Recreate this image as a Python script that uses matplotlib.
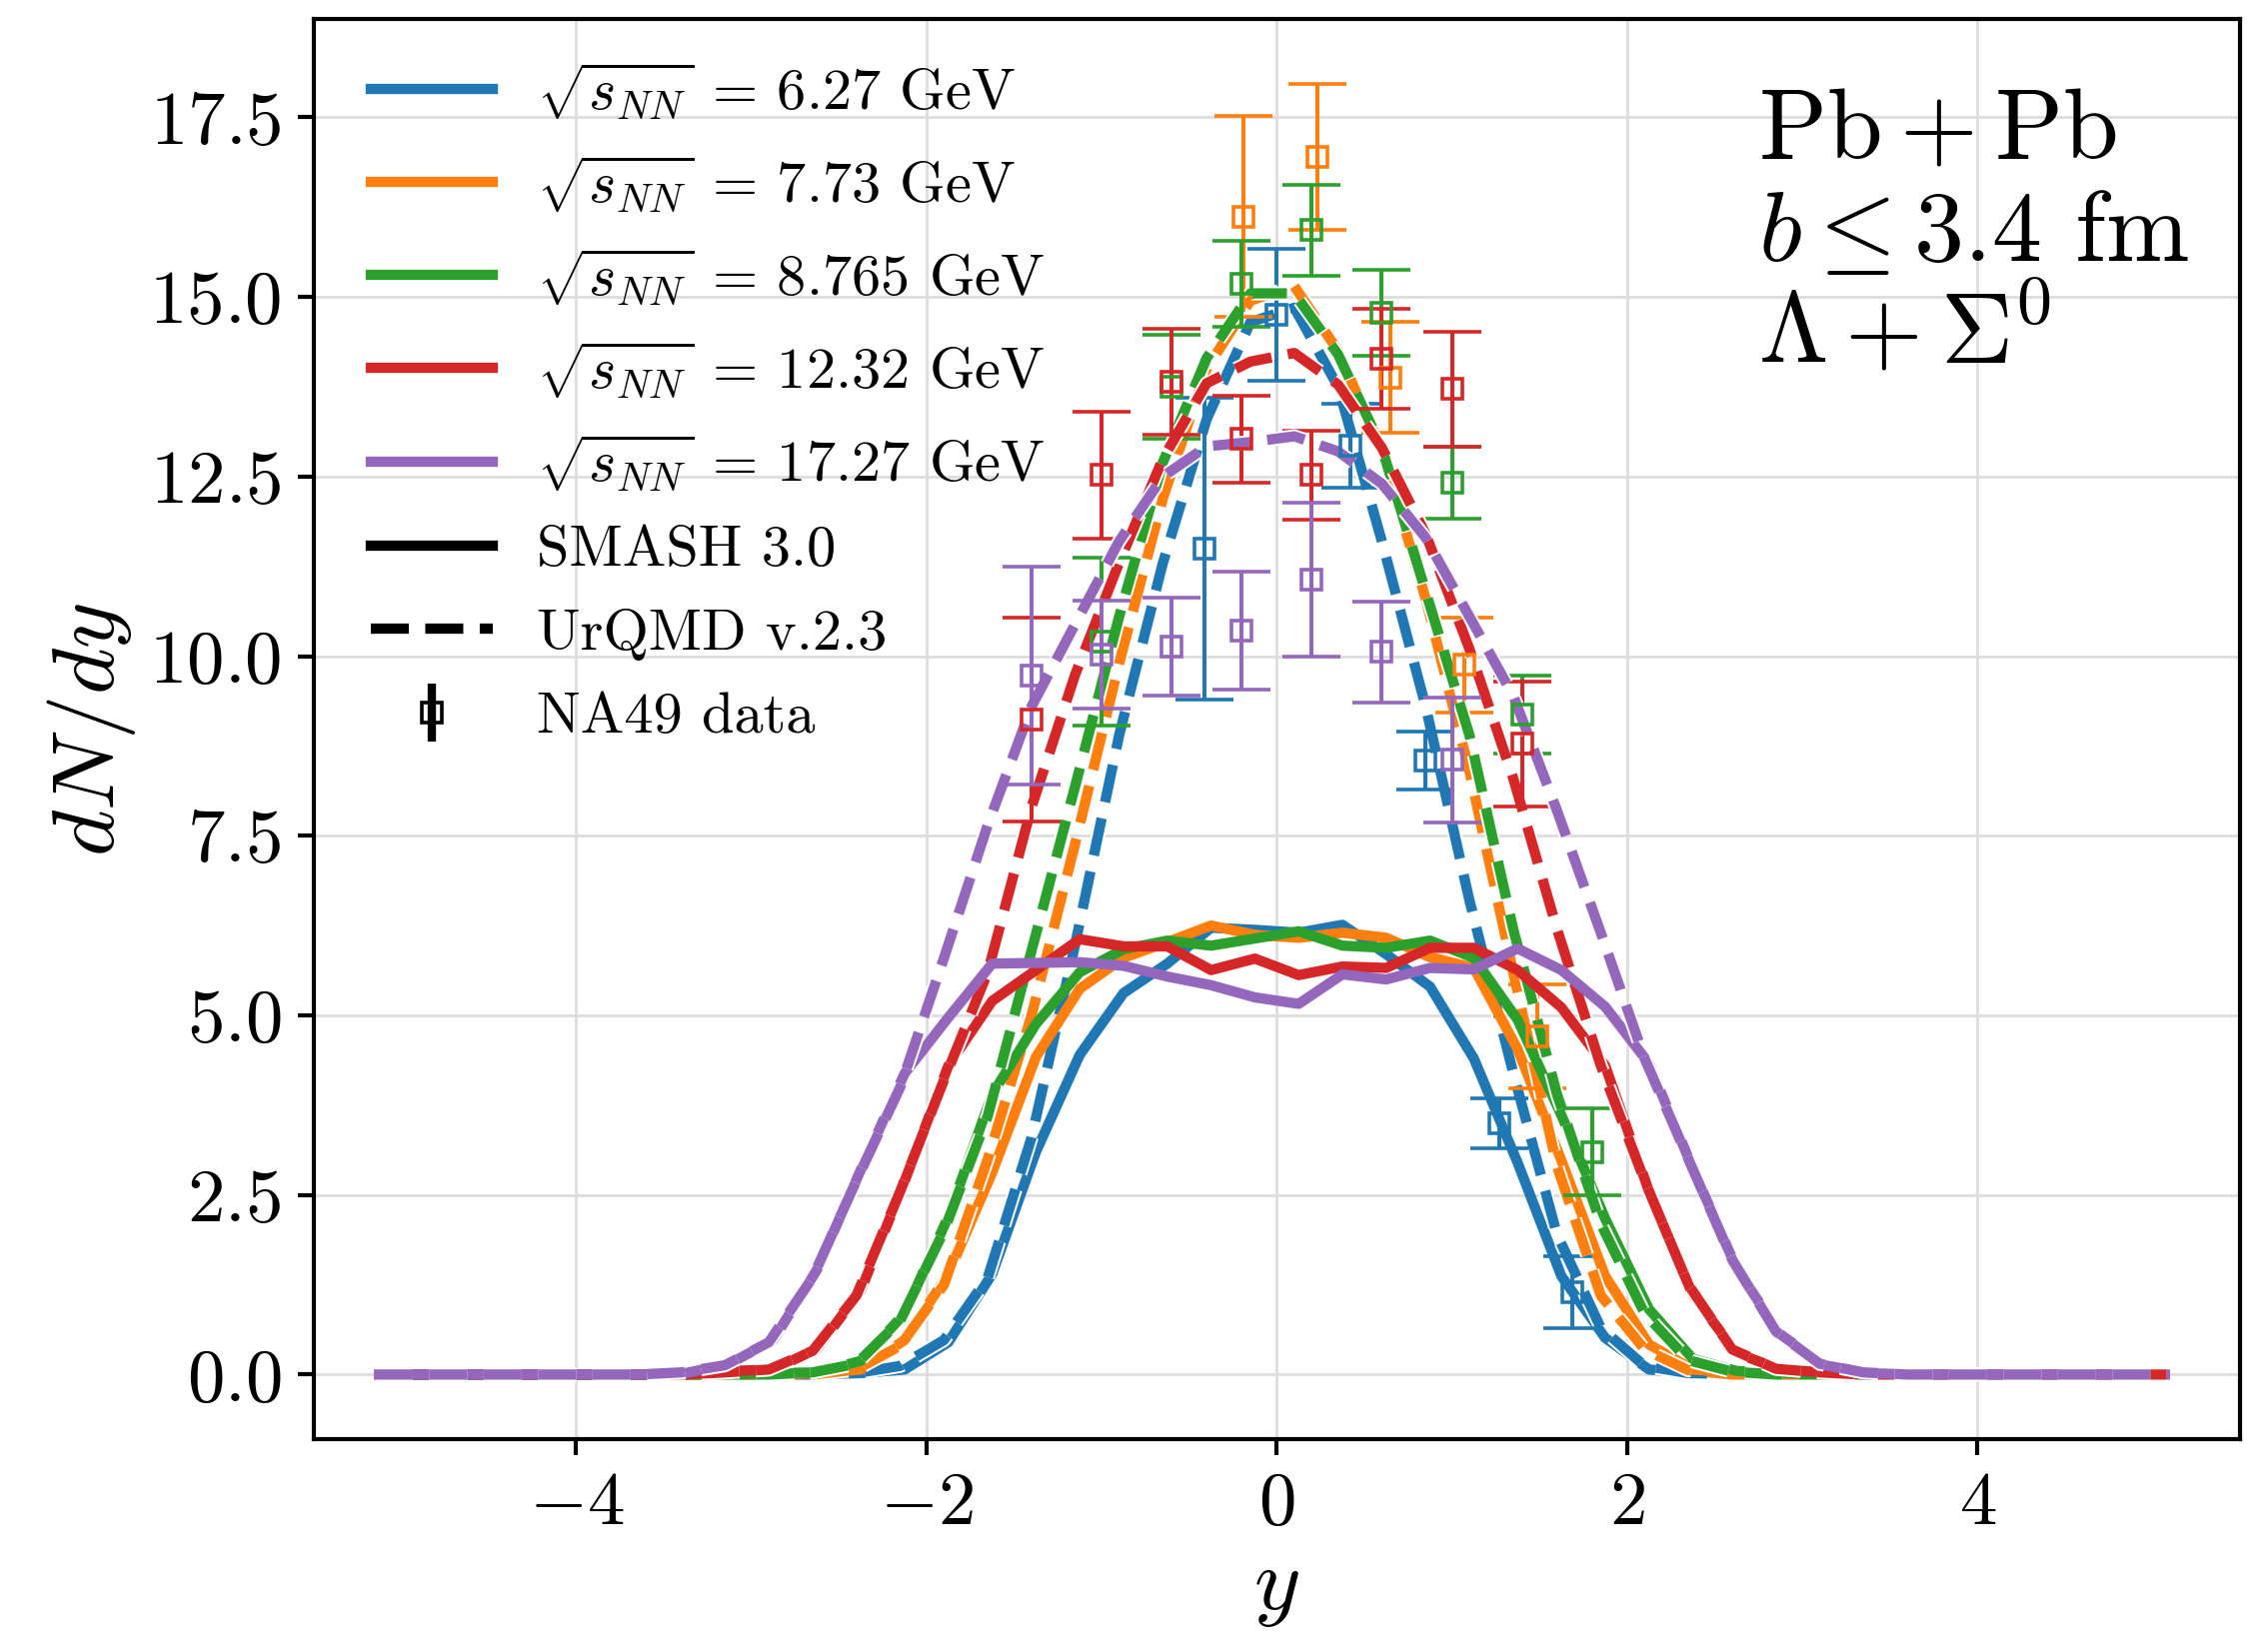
import numpy as np
import matplotlib
matplotlib.use("Agg")
import matplotlib.pyplot as plt
import matplotlib.patheffects as pe
from matplotlib.lines import Line2D

plt.rcParams['font.family'] = 'serif'
plt.rcParams['font.serif'] = ['cmr10']
plt.rcParams['mathtext.fontset'] = 'cm'
plt.rcParams['axes.formatter.use_mathtext'] = True
plt.rcParams['axes.unicode_minus'] = True

# --- data -------------------------------------------------------------
energies = ["6.27", "7.73", "8.765", "12.32", "17.27"]
colors = ["#1f77b4", "#ff7f0e", "#2ca02c", "#d62728", "#9467bd"]

# SMASH 3.0 rapidity bins (centres)
y_smash = np.arange(-5.125, 4.9, 0.25)
smash_627 = [0, 0, 0, 0, 0, 0, 0, 0, 0, 0,
             0.0, 0.02, 0.07, 0.45, 1.40, 3.10, 4.45, 5.31, 5.72, 6.22, 6.19,
             6.15, 6.26, 5.85, 5.40, 4.40, 2.95, 1.37, 0.51, 0.07, 0.02, 0.0,
             0, 0, 0, 0, 0, 0, 0, 0, 0]
smash_773 = [0, 0, 0, 0, 0, 0, 0, 0, 0, 0,
             0.02, 0.07, 0.48, 1.40, 2.81, 4.42, 5.37, 5.80, 6.02, 6.25, 6.12,
             6.08, 6.15, 6.08, 5.81, 5.66, 4.53, 2.98, 1.37, 0.42, 0.07, 0.02,
             0, 0, 0, 0, 0, 0, 0, 0, 0]
smash_8765 = [0, 0, 0, 0, 0, 0, 0, 0, 0,
              0.02, 0.03, 0.19, 0.85, 2.20, 3.90, 4.88, 5.60, 5.92, 6.04, 5.97, 6.07,
              6.17, 5.97, 5.94, 6.04, 5.80, 4.94, 3.61, 2.17, 0.91, 0.22, 0.05, 0.02,
              0, 0, 0, 0, 0, 0, 0, 0]
smash_1232 = [0, 0, 0, 0, 0, 0, 0,
              0.0, 0.05, 0.07, 0.36, 1.17, 2.69, 4.30, 5.20, 5.63, 6.06, 5.96, 5.96, 5.63, 5.79,
              5.56, 5.68, 5.66, 5.94, 5.94, 5.63, 5.11, 4.30, 2.55, 1.11, 0.30, 0.07, 0.03, 0.0,
              0, 0, 0, 0, 0, 0]
smash_1727 = [0, 0, 0, 0, 0, 0,
              0.0, 0.02, 0.15, 0.48, 1.46, 2.85, 4.19, 4.97, 5.72, 5.73, 5.74, 5.69, 5.54, 5.42, 5.25,
              5.16, 5.57, 5.50, 5.66, 5.64, 5.93, 5.63, 5.12, 4.33, 2.87, 1.48, 0.56, 0.13, 0.02, 0.0,
              0, 0, 0, 0, 0]

# UrQMD v.2.3 rapidity bins
y_urqmd = np.arange(-5.15, 5.11, 0.25)
urqmd_627 = [0, 0, 0, 0, 0, 0, 0, 0, 0, 0, 0,
             0.02, 0.12, 0.48, 1.35, 3.3, 6.0, 8.9, 11.3, 13.3, 14.65,
             14.85, 13.75, 11.6, 9.3, 6.6, 4.2, 1.95, 0.65, 0.12, 0.02,
             0, 0, 0, 0, 0, 0, 0, 0, 0, 0, 0]
urqmd_773 = [0, 0, 0, 0, 0, 0, 0, 0, 0, 0, 0,
             0.07, 0.4, 1.25, 3.0, 5.0, 7.4, 9.9, 12.2, 14.0, 14.95,
             15.15, 14.25, 12.86, 10.8, 8.4, 5.6, 2.9, 1.1, 0.35, 0.06,
             0, 0, 0, 0, 0, 0, 0, 0, 0, 0, 0]
urqmd_8765 = [0, 0, 0, 0, 0, 0, 0, 0, 0, 0,
              0.03, 0.15, 0.75, 2.0, 3.6, 5.9, 8.2, 10.55, 12.7, 14.15, 15.05,
              15.05, 14.2, 12.9, 10.9, 8.9, 6.2, 3.9, 2.1, 0.85, 0.2, 0.04,
              0, 0, 0, 0, 0, 0, 0, 0, 0, 0]
urqmd_1232 = [0, 0, 0, 0, 0, 0, 0, 0,
              0.03, 0.07, 0.33, 1.1, 2.55, 4.1, 5.6, 7.9, 9.75, 11.3, 12.75, 13.8, 14.1,
              14.22, 13.78, 12.9, 11.7, 10.1, 8.3, 6.2, 4.3, 2.7, 1.25, 0.35, 0.08, 0.03,
              0, 0, 0, 0, 0, 0, 0, 0]
urqmd_1727 = [0, 0, 0, 0, 0, 0, 0,
              0.03, 0.13, 0.45, 1.35, 2.7, 4.0, 5.8, 7.65, 9.3, 10.45, 11.6, 12.5, 12.92, 12.98,
              13.06, 12.85, 12.4, 11.65, 10.55, 9.45, 7.85, 6.15, 4.4, 3.0, 1.6, 0.6, 0.15, 0.03,
              0, 0, 0, 0, 0, 0, 0]

# NA49 data
na49_y = [
    [-0.41, 0.0, 0.42, 0.85, 1.27, 1.69],
    [-0.19, 0.23, 0.65, 1.07, 1.49],
    [-1.0, -0.6, -0.2, 0.2, 0.6, 1.0, 1.4, 1.8],
    [-1.4, -1.0, -0.6, -0.2, 0.2, 0.6, 1.0, 1.4],
    [-1.4, -1.0, -0.6, -0.2, 0.2, 0.6, 1.0],
]
na49_dndy = [
    [11.49, 14.75, 12.93, 8.55, 3.5, 1.15],
    [16.12, 16.95, 13.88, 9.88, 4.71],
    [10.2, 13.75, 15.18, 15.93, 14.78, 12.42, 9.19, 3.1],
    [9.12, 12.52, 13.82, 13.02, 12.52, 14.14, 13.72, 8.78],
    [9.73, 10.02, 10.13, 10.35, 11.06, 10.06, 8.56],
]
na49_err = [
    [2.1, 0.92, 0.58, 0.4, 0.35, 0.5],
    [1.4, 1.02, 0.77, 0.66, 0.72],
    [1.17, 0.73, 0.6, 0.63, 0.6, 0.5, 0.54, 0.6],
    [1.42, 0.88, 0.74, 0.6, 0.62, 0.69, 0.8, 0.87],
    [1.52, 0.75, 0.68, 0.82, 1.07, 0.7, 0.87],
]

smash = [smash_627, smash_773, smash_8765, smash_1232, smash_1727]
urqmd = [urqmd_627, urqmd_773, urqmd_8765, urqmd_1232, urqmd_1727]

# --- plot -------------------------------------------------------------
LW = 3.7
fig = plt.figure(figsize=(11.345, 8.205), dpi=200)
ax = fig.add_axes([0.1382, 0.1225, 0.8495, 0.8659])

white_edge = [pe.Stroke(linewidth=LW + 1.4, foreground='white'), pe.Normal()]

for i in range(5):
    c = colors[i]
    ax.plot(y_smash, smash[i], color=c, lw=LW, ls='-')
    ax.plot(y_urqmd, urqmd[i], color=c, lw=LW, ls='--', path_effects=white_edge)
    ax.errorbar(na49_y[i], na49_dndy[i], yerr=na49_err[i], fmt='s', color=c,
                mfc='none', ms=7, mew=1.3, elinewidth=1.45, capsize=10.4,
                capthick=1.45)

ax.set_xlim(-5.5, 5.5)
ax.set_xticks([-4, -2, 0, 2, 4])
ax.set_yticks([0, 2.5, 5, 7.5, 10, 12.5, 15, 17.5])
ax.grid(True, color='#dddddd', lw=1.0)
ax.set_axisbelow(True)
for s in ax.spines.values():
    s.set_linewidth(1.5)
ax.tick_params(direction='out', length=5.6, width=1.5, labelsize=27, pad=6)

ax.set_xlabel(r"$y$", fontsize=32)
ax.set_ylabel(r"$dN/dy$", fontsize=32)

# legend
handles = [Line2D([], [], color=colors[i], lw=LW) for i in range(5)]
labels = [r"$\sqrt{s_{NN}}$ = %s GeV" % e for e in energies]
handles.append(Line2D([], [], color='k', lw=LW, ls='-'))
labels.append("SMASH 3.0")
handles.append(Line2D([], [], color='k', lw=LW, ls='--'))
labels.append("UrQMD v.2.3")
eb = ax.errorbar([np.nan], [np.nan], yerr=[np.nan], fmt='s', color='k',
                 mfc='none', ms=7, mew=1.3, elinewidth=3.0, capsize=0)
handles.append(eb)
labels.append("NA49 data")
ax.legend(handles, labels, loc='upper left', bbox_to_anchor=(0.0085, 1.0),
          frameon=False, fontsize=21, labelspacing=0.54, borderaxespad=0.3,
          handlelength=2.1, handletextpad=0.75)

ax.text(0.750, 0.9023, r"$\mathrm{Pb} + \mathrm{Pb}$", transform=ax.transAxes,
        fontsize=36, va='baseline', ha='left')
ax.text(0.750, 0.830, r"$b \leq 3.4$ fm", transform=ax.transAxes, fontsize=36,
        va='baseline', ha='left')
ax.text(0.750, 0.758, r"$\Lambda + \Sigma^0$", transform=ax.transAxes, fontsize=36,
        va='baseline', ha='left')

fig.savefig("out.png", dpi=200)
